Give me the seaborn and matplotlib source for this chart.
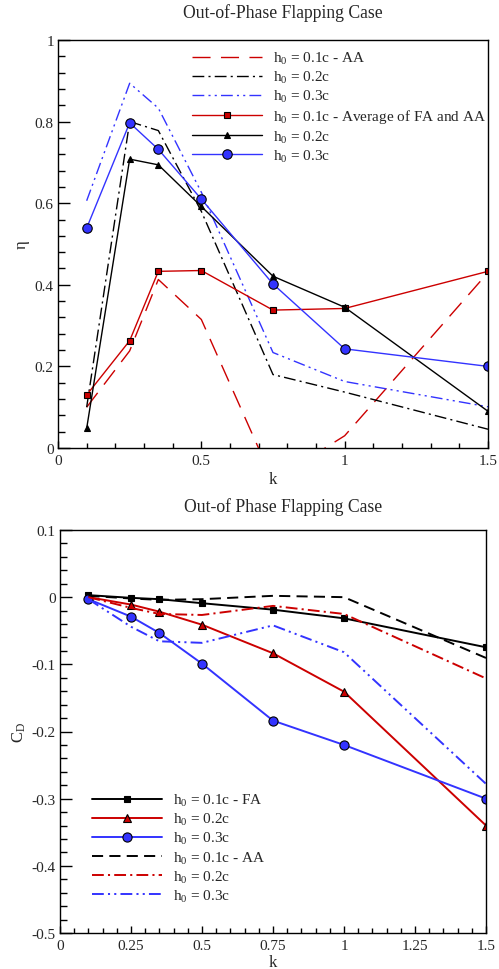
import matplotlib
matplotlib.use("Agg")
import matplotlib.pyplot as plt
from matplotlib.ticker import MultipleLocator, FuncFormatter
import seaborn as sns

# ---- data -------------------------------------------------------------
k = [0.1, 0.25, 0.35, 0.5, 0.75, 1.0, 1.5]

# propulsive efficiency, out-of-phase flapping
eta_aa_01 = [0.10, 0.238, 0.413, 0.315, -0.08, 0.03, 0.43]
eta_aa_02 = [0.10, 0.80, 0.778, 0.58, 0.18, 0.137, 0.046]
eta_aa_03 = [0.606, 0.894, 0.833, 0.627, 0.234, 0.163, 0.101]
eta_avg_01 = [0.13, 0.263, 0.433, 0.435, 0.338, 0.342, 0.433]
eta_02 = [0.048, 0.708, 0.694, 0.592, 0.421, 0.345, 0.09]
eta_03 = [0.539, 0.797, 0.732, 0.61, 0.402, 0.243, 0.20]

# drag coefficient, out-of-phase flapping
cd_fa_01 = [0.003, -0.001, -0.003, -0.009, -0.0186, -0.0315, -0.0746]
cd_02 = [0.0, -0.011, -0.0216, -0.041, -0.0835, -0.1407, -0.340]
cd_03 = [-0.003, -0.029, -0.0533, -0.099, -0.1838, -0.22, -0.30]
cd_aa_01 = [0.002, -0.002, -0.004, -0.003, 0.002, 0.0, -0.0905]
cd_aa_02 = [0.0, -0.016, -0.025, -0.0265, -0.013, -0.025, -0.121]
cd_aa_03 = [-0.003, -0.044, -0.0657, -0.068, -0.042, -0.082, -0.278]

labels_eta = [r"$\mathrm{h_0}$ = 0.1c - AA", r"$\mathrm{h_0}$ = 0.2c", r"$\mathrm{h_0}$ = 0.3c",
              r"$\mathrm{h_0}$ = 0.1c - Average of FA and AA", r"$\mathrm{h_0}$ = 0.2c",
              r"$\mathrm{h_0}$ = 0.3c"]
labels_cd = [r"$\mathrm{h_0}$ = 0.1c - FA", r"$\mathrm{h_0}$ = 0.2c", r"$\mathrm{h_0}$ = 0.3c",
             r"$\mathrm{h_0}$ = 0.1c - AA", r"$\mathrm{h_0}$ = 0.2c", r"$\mathrm{h_0}$ = 0.3c"]

# ---- style ------------------------------------------------------------
sns.set_style("white")
plt.rcParams["font.family"] = ["Liberation Serif", "DejaVu Serif"]
plt.rcParams["mathtext.fontset"] = "custom"
plt.rcParams["mathtext.rm"] = "Liberation Serif"
plt.rcParams["mathtext.it"] = "Liberation Serif:italic"
plt.rcParams["axes.unicode_minus"] = False
plt.rcParams["lines.scale_dashes"] = False

RED = "#cc0000"
BLUE = "#3333ff"
BLACK = "#000000"
FS = 11

DASH = (0, (13, 7.5))
DASHDOT = (0, (8.5, 3, 1.5, 3))
DASHDOTDOT = (0, (8.5, 3, 1.5, 3, 1.5, 3))

W, H = 499, 970
fig = plt.figure(figsize=(W / 100, H / 100), dpi=100)
ax1 = fig.add_axes([58 / W, 1 - 449 / H, 430 / W, 408 / H])
ax2 = fig.add_axes([60 / W, 1 - 934 / H, 426 / W, 403 / H])


def draw(ax, y, color, ls, lw, label, marker=None, ms=0):
    sns.lineplot(x=k, y=y, ax=ax, color=color, linestyle=ls, linewidth=lw,
                 marker=marker, markersize=ms, markeredgecolor="black",
                 markeredgewidth=0.8, markerfacecolor=color, label=label,
                 sort=False, estimator=None)


def tick_text(v, pos):
    if abs(v) < 1e-9:
        return "0"
    return "%g" % round(v, 4)


def style_axes(ax, xmaj, xmin, ymaj, ymin):
    for s in ax.spines.values():
        s.set_visible(True)
        s.set_linewidth(1.0)
        s.set_color("black")
    ax.xaxis.set_major_locator(MultipleLocator(xmaj))
    ax.xaxis.set_minor_locator(MultipleLocator(xmin))
    ax.yaxis.set_major_locator(MultipleLocator(ymaj))
    ax.yaxis.set_minor_locator(MultipleLocator(ymin))
    ax.xaxis.set_major_formatter(FuncFormatter(tick_text))
    ax.yaxis.set_major_formatter(FuncFormatter(tick_text))
    ax.tick_params(axis="both", which="both", direction="in", bottom=True, left=True,
                   top=False, right=False, labelsize=FS, color="black", width=1.0, pad=3)
    ax.tick_params(axis="x", which="major", length=5, pad=4)
    ax.tick_params(axis="x", which="minor", length=3.6)
    ax.tick_params(axis="y", which="major", length=8.4)
    ax.tick_params(axis="y", which="minor", length=4.8)


# ---- efficiency panel -------------------------------------------------
draw(ax1, eta_aa_01, RED, DASH, 1.0, labels_eta[0])
draw(ax1, eta_aa_02, BLACK, DASHDOT, 1.0, labels_eta[1])
draw(ax1, eta_aa_03, BLUE, DASHDOTDOT, 1.0, labels_eta[2])
draw(ax1, eta_avg_01, RED, "-", 1.0, labels_eta[3], "s", 4.4)
draw(ax1, eta_02, BLACK, "-", 1.0, labels_eta[4], "^", 4.6)
draw(ax1, eta_03, BLUE, "-", 1.0, labels_eta[5], "o", 6.8)
ax1.set_xlim(0, 1.5)
ax1.set_ylim(0, 1)
style_axes(ax1, 0.5, 0.1, 0.2, 0.04)
ax1.set_xlabel("k", fontsize=FS + 1, labelpad=3)
ax1.set_ylabel("η", fontsize=FS + 1, labelpad=4)
fig.text(283 / W, 1 - 13 / H, "Out-of-Phase Flapping Case", fontsize=12.7,
         ha="center", va="center")
h, l = ax1.get_legend_handles_labels()
ax1.legend(h, l, loc="upper left", bbox_to_anchor=(192 / W, 1 - 51 / H),
           bbox_transform=fig.transFigure, frameon=False, fontsize=FS,
           handlelength=4.6, handletextpad=0.72, labelspacing=0.2,
           borderpad=0, borderaxespad=0)

# ---- drag panel -------------------------------------------------------
draw(ax2, cd_fa_01, BLACK, "-", 1.4, labels_cd[0], "s", 4.6)
draw(ax2, cd_02, RED, "-", 1.4, labels_cd[1], "^", 5.2)
draw(ax2, cd_03, BLUE, "-", 1.4, labels_cd[2], "o", 6.6)
draw(ax2, cd_aa_01, BLACK, (0, (8, 4.5)), 1.4, labels_cd[3])
draw(ax2, cd_aa_02, RED, DASHDOT, 1.4, labels_cd[4])
draw(ax2, cd_aa_03, BLUE, DASHDOTDOT, 1.4, labels_cd[5])
ax2.set_xlim(0, 1.5)
ax2.set_ylim(-0.5, 0.1)
style_axes(ax2, 0.25, 0.05, 0.1, 0.02)
ax2.set_xlabel("k", fontsize=FS + 1, labelpad=2)
ax2.set_ylabel(r"$\mathrm{C_D}$", fontsize=FS + 1, labelpad=3)
fig.text(283 / W, 1 - 507 / H, "Out-of Phase Flapping Case", fontsize=12.7,
         ha="center", va="center")
h, l = ax2.get_legend_handles_labels()
ax2.legend(h, l, loc="upper left", bbox_to_anchor=(92 / W, 1 - 793 / H),
           bbox_transform=fig.transFigure, frameon=False, fontsize=FS,
           handlelength=4.6, handletextpad=0.72, labelspacing=0.2,
           borderpad=0, borderaxespad=0)

fig.savefig("out.png", dpi=100)
